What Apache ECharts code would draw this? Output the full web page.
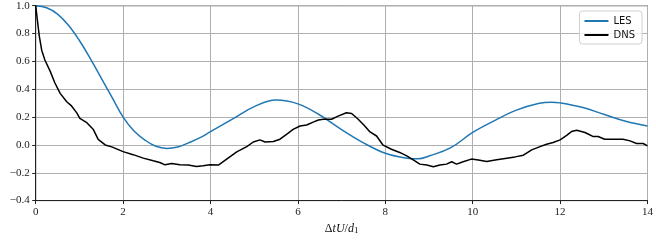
<!DOCTYPE html>
<html>
<head>
<meta charset="utf-8">
<script src="https://cdn.jsdelivr.net/npm/echarts@6/dist/echarts.min.js"></script>
<style>html,body{margin:0;padding:0;background:#fff}#c{width:656px;height:240px}</style>
</head>
<body>
<div id="c"></div>
<script>
var xTicks = [0, 2, 4, 6, 8, 10, 12, 14];
var yTicks = [-0.4, -0.2, 0.0, 0.2, 0.4, 0.6, 0.8, 1.0];
var seriesNames = ['LES', 'DNS'];

var lesX = [0, 0.25, 0.5, 0.75, 1.0, 1.25, 1.5, 1.75, 2.0, 2.25, 2.5, 2.75, 3.0, 3.25, 3.5, 3.75, 4.0, 4.5, 5.0, 5.5, 6.0, 6.5, 7.0, 7.5, 8.0, 8.5, 8.75, 9.0, 9.5, 10.0, 10.5, 11.0, 11.5, 11.8, 12.0, 12.5, 13.0, 13.5, 14.0];
var lesY = [1.0, 0.985, 0.94, 0.86, 0.75, 0.62, 0.48, 0.34, 0.2, 0.1, 0.035, -0.01, -0.025, -0.015, 0.015, 0.05, 0.095, 0.185, 0.275, 0.322, 0.295, 0.215, 0.11, 0.015, -0.06, -0.095, -0.1, -0.08, -0.02, 0.09, 0.175, 0.25, 0.297, 0.307, 0.302, 0.27, 0.22, 0.17, 0.136];

var dnsX = [0, 0.037, 0.083, 0.137, 0.21, 0.33, 0.44, 0.56, 0.71, 0.82, 0.94, 1.01, 1.17, 1.32, 1.43, 1.59, 1.74, 2.0, 2.23, 2.46, 2.69, 2.84, 2.96, 3.11, 3.30, 3.49, 3.68, 3.83, 3.99, 4.18, 4.37, 4.60, 4.83, 4.98, 5.13, 5.25, 5.44, 5.59, 5.74, 5.89, 6.05, 6.20, 6.35, 6.47, 6.58, 6.77, 6.92, 7.11, 7.23, 7.38, 7.53, 7.65, 7.80, 7.95, 8.14, 8.33, 8.49, 8.64, 8.79, 8.95, 9.10, 9.25, 9.40, 9.52, 9.63, 9.78, 9.97, 10.13, 10.32, 10.55, 10.78, 10.97, 11.16, 11.35, 11.54, 11.69, 11.84, 12.0, 12.15, 12.26, 12.38, 12.57, 12.76, 12.87, 13.02, 13.21, 13.44, 13.6, 13.75, 13.9, 14.0];
var dnsY = [1.0, 0.90, 0.78, 0.68, 0.61, 0.53, 0.445, 0.37, 0.31, 0.28, 0.23, 0.19, 0.16, 0.11, 0.04, 0.0, -0.014, -0.048, -0.07, -0.095, -0.114, -0.126, -0.143, -0.133, -0.143, -0.145, -0.155, -0.15, -0.143, -0.145, -0.102, -0.05, -0.012, 0.021, 0.036, 0.021, 0.024, 0.041, 0.076, 0.112, 0.136, 0.143, 0.164, 0.179, 0.184, 0.184, 0.207, 0.231, 0.226, 0.184, 0.136, 0.093, 0.064, -0.002, -0.031, -0.054, -0.079, -0.107, -0.138, -0.145, -0.157, -0.145, -0.138, -0.121, -0.138, -0.121, -0.102, -0.109, -0.119, -0.107, -0.095, -0.086, -0.074, -0.036, -0.012, 0.005, 0.017, 0.036, 0.069, 0.096, 0.105, 0.089, 0.06, 0.06, 0.041, 0.041, 0.041, 0.029, 0.01, 0.01, -0.007];

function pairs(xs, ys) { return xs.map(function (x, i) { return [x, ys[i]]; }); }

var serif = '"Liberation Serif", "DejaVu Serif", serif';
var chart = echarts.init(document.getElementById('c'), null, {renderer: 'canvas'});
chart.setOption({
  animation: false,
  backgroundColor: '#fff',
  grid: {left: 35.7, right: 8.3, top: 5.7, bottom: 38.3, show: true, borderColor: '#222', borderWidth: 1, backgroundColor: 'transparent'},
  legend: {
    right: 14, top: 11, orient: 'vertical', itemWidth: 24, itemHeight: 2, itemGap: 4,
    padding: [5, 7, 4, 5],
    borderColor: '#d0d0d0', borderWidth: 1, borderRadius: 3, backgroundColor: 'rgba(255,255,255,0.8)',
    textStyle: {fontFamily: '"DejaVu Sans", sans-serif', fontSize: 10, color: '#111'},
    icon: 'rect',
    data: seriesNames
  },
  xAxis: {
    type: 'value', min: 0, max: 14, interval: 2,
    name: '{d|Δ}{i|tU}{d|/}{i|d}{s|1}', nameLocation: 'middle', nameGap: 21,
    nameTextStyle: {rich: {
      d: {fontFamily: serif, fontSize: 12, color: '#111'},
      i: {fontFamily: serif, fontStyle: 'italic', fontSize: 12, color: '#111'},
      s: {fontFamily: serif, fontSize: 9, color: '#111', verticalAlign: 'bottom', padding: [4, 0, 0, 0]}
    }},
    axisLine: {show: true, onZero: false, lineStyle: {color: '#222', width: 1}},
    axisTick: {show: true, length: 3.5, lineStyle: {color: '#222'}},
    axisLabel: {fontFamily: serif, fontSize: 11, color: '#222', margin: 6, formatter: function (v) { return String(v); }},
    splitLine: {show: true, lineStyle: {color: '#b0b0b0', width: 1}}
  },
  yAxis: {
    type: 'value', min: -0.4, max: 1.0, interval: 0.2,
    axisLine: {show: true, onZero: false, lineStyle: {color: '#222', width: 1}},
    axisTick: {show: true, length: 3.5, lineStyle: {color: '#222'}},
    axisLabel: {fontFamily: serif, fontSize: 11, color: '#222', margin: 6,
      formatter: function (v) { var s = Math.abs(v).toFixed(1); return (v < -1e-9 ? '\u2212' : '') + s; }},
    splitLine: {show: true, lineStyle: {color: '#b0b0b0', width: 1}}
  },
  series: [
    {name: seriesNames[0], type: 'line', data: pairs(lesX, lesY), smooth: 0.4, showSymbol: false, symbol: 'none',
     lineStyle: {color: '#1f77b4', width: 1.5}, itemStyle: {color: '#1f77b4'}},
    {name: seriesNames[1], type: 'line', data: pairs(dnsX, dnsY), smooth: false, showSymbol: false, symbol: 'none',
     lineStyle: {color: '#000', width: 1.5}, itemStyle: {color: '#000'}}
  ]
});
</script>
</body>
</html>
